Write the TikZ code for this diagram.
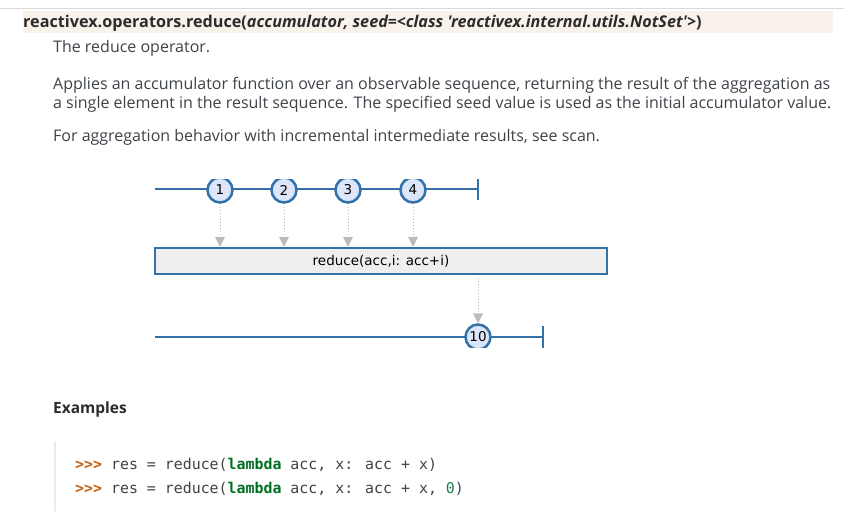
\documentclass[tikz,border=0pt]{standalone}
\usepackage{fontspec}
\setmainfont{Open Sans}
\newfontfamily\hdrfont{Open Sans}[Ligatures=TeXOff]
\newfontfamily\svgfont{DejaVu Sans}
\newfontfamily\codefont{DejaVu Sans Mono}
\usetikzlibrary{arrows.meta}
\definecolor{mblue}{HTML}{3471A8}
\definecolor{mfill}{HTML}{DCE6FA}
\definecolor{agray}{HTML}{BBBBBB}
\definecolor{boxfill}{HTML}{EEEEEE}
\definecolor{hdrbg}{HTML}{F8F2EB}
\definecolor{bodytxt}{HTML}{3E4349}
\definecolor{hdrtxt}{HTML}{2B2B2B}
\definecolor{prompt}{HTML}{C65D09}
\definecolor{kw}{HTML}{007020}
\definecolor{num}{HTML}{208050}
\tikzset{
  txt/.style={anchor=base west, inner sep=0pt, text=bodytxt, font=\fontsize{16}{19}\selectfont},
  timeline/.style={draw=mblue, line width=2.5pt},
  marble/.style={circle, draw=mblue, fill=mfill, line width=2.5pt, minimum size=25pt, inner sep=0pt, font=\svgfont\fontsize{13.5}{15}\selectfont},
  flow/.style={draw=agray, line width=1pt, dotted, -{Triangle[width=10pt,length=10pt,sep=0pt]}},
  opbox/.style={draw=mblue, fill=boxfill, line width=2.5pt, minimum width=452pt, minimum height=26pt, inner sep=0pt, font=\svgfont\fontsize{13.5}{15}\selectfont},
  code/.style={anchor=base west, inner sep=0pt, text=bodytxt, font=\codefont\fontsize{14.9}{18}\selectfont}
}
\begin{document}
\begin{tikzpicture}[x=1pt,y=-1pt]
\useasboundingbox (0,0) rectangle (844,516);
% header
\draw[draw=black!15, line width=1pt] (0,9) -- (844,9);
\fill[hdrbg] (23,11) rectangle (833,33);
\node[anchor=base west, inner sep=0pt, text=hdrtxt, font=\hdrfont\bfseries\fontsize{16.2}{19}\selectfont] (hdr) at (23,28)
  {reactivex.operators.reduce(\textit{accumulator, seed=<class 'reactivex.internal.utils.NotSet'>})};
\node[txt] (t1) at (53,53) {The reduce operator.};
\node[txt] (t2) at (53,90) {Applies an accumulator function over an observable sequence, returning the result of the aggregation as};
\node[txt] (t3) at (53,109) {a single element in the result sequence. The specified seed value is used as the initial accumulator value.};
\node[txt] (t4) at (53,142) {For aggregation behavior with incremental intermediate results, see scan.};
% diagram
\begin{scope}
\clip (140,180) rectangle (620,347);
\coordinate (s1) at (155,189);
\coordinate (e1) at (478,189);
\draw[timeline] (s1) -- (e1);
\draw[timeline] (478,178) -- (478,200);
\node[marble] (m1) at (220,190) {1};
\node[marble] (m2) at (284,190) {2};
\node[marble] (m3) at (348,190) {3};
\node[marble] (m4) at (413,190) {4};
\node[opbox] (op) at (381,261) {reduce(acc,i: acc+i)};
\coordinate (s2) at (155,337);
\coordinate (e2) at (543,337);
\draw[timeline] (s2) -- (e2);
\draw[timeline] (543,326) -- (543,348);
\node[marble] (r) at (478,337) {10};
\end{scope}
\draw[flow] (m1.south) ++(0,3) -- (m1.south |- op.north);
\draw[flow] (m2.south) ++(0,3) -- (m2.south |- op.north);
\draw[flow] (m3.south) ++(0,3) -- (m3.south |- op.north);
\draw[flow] (m4.south) ++(0,3) -- (m4.south |- op.north);
\draw[flow] (r.north |- op.south) ++(0,3) -- (r.north);
% examples
\node[anchor=base west, inner sep=0pt, text=hdrtxt, font=\bfseries\fontsize{15.5}{18}\selectfont] (ex) at (53,413) {Examples};
\draw[draw=black!8, line width=2pt, line cap=round] (55,442) -- (55,511);
\node[code] (c1) at (75,469) {\textcolor{prompt}{\bfseries >{}>{}>} res = reduce(\textcolor{kw}{\bfseries lambda} acc, x: acc + x)};
\node[code] (c2) at (75,493) {\textcolor{prompt}{\bfseries >{}>{}>} res = reduce(\textcolor{kw}{\bfseries lambda} acc, x: acc + x, \textcolor{num}{0})};
\end{tikzpicture}
\end{document}
